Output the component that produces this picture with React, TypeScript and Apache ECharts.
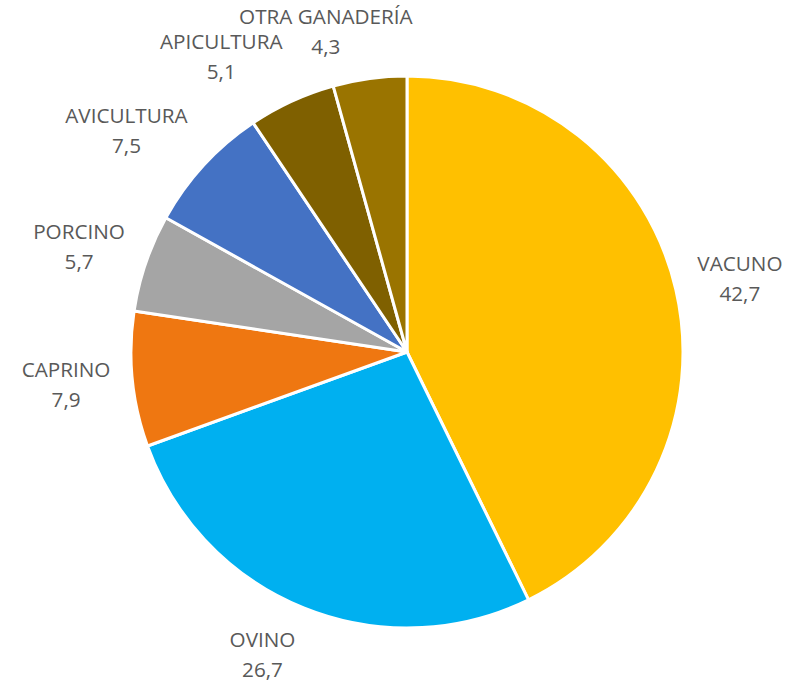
import React, { useEffect, useRef } from 'react';
import * as echarts from 'echarts';

const categories = ['VACUNO', 'OVINO', 'CAPRINO', 'PORCINO', 'AVICULTURA', 'APICULTURA', 'OTRA GANADERÍA'];
const values = [42.7, 26.7, 7.9, 5.7, 7.5, 5.1, 4.3];
const colors = ['#FFC000', '#00B0F0', '#EF7711', '#A5A5A5', '#4472C4', '#7F6000', '#9A7400'];

const clamp = (v: number) => Math.max(-1, Math.min(1, v));

export default function App() {
  const ref = useRef<HTMLDivElement>(null);
  useEffect(() => {
    document.body.style.margin = '0';
    const chart = echarts.init(ref.current!, null, { renderer: 'svg' });
    const cx = 407, cy = 352, r = 276, gap = 22;
    const total = values.reduce((a, b) => a + b, 0);
    const mids: number[] = [];
    let acc = 0;
    values.forEach((v) => {
      mids.push(((acc + v / 2) / total) * 2 * Math.PI);
      acc += v;
    });
    chart.setOption({
      animation: false,
      series: [
        {
          type: 'pie',
          center: [cx, cy],
          radius: r,
          startAngle: 90,
          clockwise: true,
          avoidLabelOverlap: false,
          data: categories.map((n, i) => ({ name: n, value: values[i], itemStyle: { color: colors[i] } })),
          itemStyle: { borderColor: '#ffffff', borderWidth: 3 },
          label: {
            show: true,
            position: 'outside',
            formatter: (p: any) => `{t|${p.name}}\n{t|${String(p.value).replace('.', ',')}}`,
            rich: {
              t: { align: 'center', fontFamily: 'Open Sans', fontSize: 20.7, color: '#595959', lineHeight: 30 },
            },
          },
          labelLine: { show: false },
          labelLayout: (params: any) => {
            const a = mids[params.dataIndex];
            const dx = Math.sin(a), dy = -Math.cos(a);
            const w = params.labelRect.width, h = params.labelRect.height;
            return {
              x: cx + dx * (r + gap) + (clamp(3.5 * dx) * w) / 2,
              y: cy + dy * (r + gap) + (clamp(1.2 * dy) * h) / 2,
              align: 'center',
              verticalAlign: 'middle',
            };
          },
          emphasis: { disabled: true },
        },
      ],
    });
    return () => chart.dispose();
  }, []);
  return <div ref={ref} style={{ width: 794, height: 685 }} />;
}
